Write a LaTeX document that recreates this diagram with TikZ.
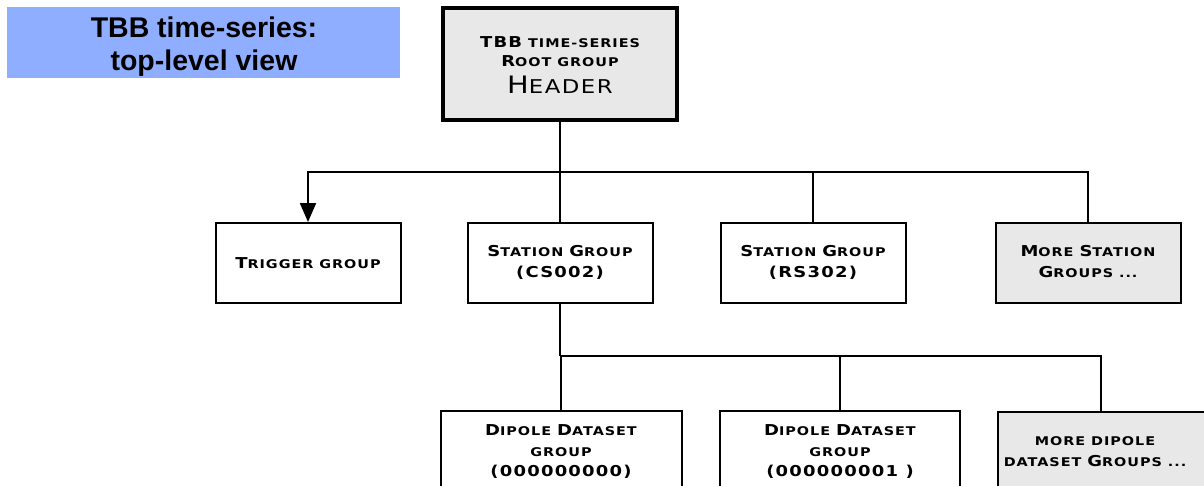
\documentclass[tikz,border=0pt]{standalone}
\usepackage{fontspec}
\setmainfont{Liberation Sans}
\newfontfamily\cpf[FakeStretch=1.2,LetterSpace=8]{DejaVu Sans}
\newfontfamily\titlef{Liberation Sans}
\usetikzlibrary{arrows.meta}
\definecolor{bannerblue}{HTML}{8FAEFF}
\definecolor{boxgray}{HTML}{E8E8E8}
\newcommand\Cp[1]{{\fontsize{15}{21}\selectfont #1}}
\newcommand\Sm[1]{{\fontsize{12}{21}\selectfont #1}}
\newcommand\Hc[1]{{\fontsize{24}{21}\selectfont #1}}
\newcommand\Hs[1]{{\fontsize{19}{21}\selectfont #1}}
\tikzset{
  box/.style={draw, line width=2pt, minimum width=185pt, minimum height=80pt, inner sep=0pt},
  txt/.style={align=center, font={\cpf\bfseries\fontsize{12}{21}\selectfont}},
  conn/.style={line width=2pt},
  ttl/.style={font={\titlef\bfseries\fontsize{28.5}{33}\selectfont}, anchor=base, inner sep=0pt}
}
\begin{document}
\begin{tikzpicture}[x=1pt,y=-1pt]
\useasboundingbox (0,0) rectangle (1204,485);
% title banner
\node[fill=bannerblue, minimum width=393pt, minimum height=71pt, inner sep=0pt, anchor=north west] (banner) at (7,7) {};
\node[ttl] (t1) at (204,37) {TBB time-series:};
\node[ttl] (t2) at (204,70) {top-level view};
% root
\node[box, fill=boxgray, line width=4pt, minimum width=234pt, minimum height=112pt] (root) at (560,64) {};
\node[txt, font={\cpf\bfseries\fontsize{12}{19}\selectfont}] (roott) at (560,65) {\Cp{TBB} \Sm{TIME-SERIES}\\ \Cp{R}\Sm{OOT GROUP}\\[8pt] {\mdseries\Hc{H}\Hs{EADER}}};
% level 1
\node[box] (trig) at (308,263) {};
\node[txt] (trigt) at (308,263) {\Cp{T}\Sm{RIGGER GROUP}};
\node[box] (cs) at (560,263) {};
\node[txt] (cst) at (560,262) {\Cp{S}\Sm{TATION} \Cp{G}\Sm{ROUP}\\ \Cp{(CS002)}};
\node[box] (rs) at (813,263) {};
\node[txt] (rst) at (813,262) {\Cp{S}\Sm{TATION} \Cp{G}\Sm{ROUP}\\ \Cp{(RS302)}};
\node[box, fill=boxgray] (more) at (1088,263) {};
\node[txt] (moret) at (1088,262) {\Cp{M}\Sm{ORE} \Cp{S}\Sm{TATION}\\ \Cp{G}\Sm{ROUPS ...}};
% level 2
\node[box, minimum width=241pt] (d0) at (561,451) {};
\node[txt, font={\cpf\bfseries\fontsize{12}{20.5}\selectfont}] (d0t) at (561,452) {\Cp{D}\Sm{IPOLE} \Cp{D}\Sm{ATASET}\\ \Sm{GROUP}\\ \Cp{(000000000)}};
\node[box, minimum width=240pt] (d1) at (840,451) {};
\node[txt, font={\cpf\bfseries\fontsize{12}{20.5}\selectfont}] (d1t) at (840,452) {\Cp{D}\Sm{IPOLE} \Cp{D}\Sm{ATASET}\\ \Sm{GROUP}\\ \Cp{(000000001 )}};
\node[box, fill=boxgray, minimum width=220pt, anchor=north west] (md) at (997,411) {};
\node[txt] (mdt) at (1095,452) {\Sm{MORE DIPOLE}\\ \Sm{DATASET} \Cp{G}\Sm{ROUPS ...}};
% connectors
\coordinate (b1) at (560,172);
\draw[conn] (root.south) -- (b1);
\draw[conn, -{Triangle[length=19pt,width=16pt]}] (b1) -| (trig.north);
\draw[conn] (b1) -- (cs.north);
\draw[conn] (b1) -| (rs.north);
\draw[conn] (b1) -| (more.north);
\coordinate (b2) at (560,356);
\coordinate (mdin) at ([xshift=104pt]md.north west);
\draw[conn] (cs.south) -- (b2);
\draw[conn] (b2) -| (mdin);
\draw[conn] (b2 -| d0.north) -- (d0.north);
\draw[conn] (b2 -| d1.north) -- (d1.north);
\end{tikzpicture}
\end{document}
